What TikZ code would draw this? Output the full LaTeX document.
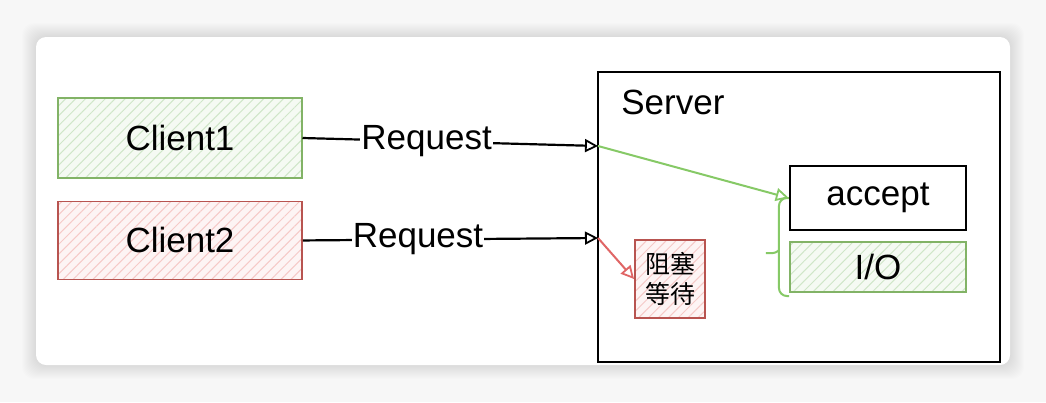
\documentclass[tikz,border=0pt]{standalone}
\usepackage{fontspec}
\setmainfont{Liberation Sans}
\newfontfamily\cjkfont{Noto Sans CJK SC}
\usetikzlibrary{arrows.meta,patterns.meta,positioning,calc}
\definecolor{linegreen}{HTML}{82B366}
\definecolor{hatchgreen}{HTML}{CFE6C8}
\definecolor{paperGreen}{HTML}{F5FAF3}
\definecolor{linered}{HTML}{B85450}
\definecolor{hatchred}{HTML}{F6C9C7}
\definecolor{paperRed}{HTML}{FDF4F4}
\definecolor{arrowgreen}{HTML}{86C966}
\definecolor{arrowred}{HTML}{E06666}
\begin{document}
\begin{tikzpicture}[x=1pt,y=-1pt,
					box/.style={rectangle,draw,line width=1.9pt,inner sep=0pt,font=\fontsize{35}{40}\selectfont},
					greenbox/.style={box,draw=linegreen,preaction={fill=paperGreen},
						pattern={Lines[angle=45,distance=7pt,line width=1pt]},pattern color=hatchgreen},
					redbox/.style={box,draw=linered,preaction={fill=paperRed},
						pattern={Lines[angle=45,distance=7pt,line width=1pt]},pattern color=hatchred},
					tip/.style={-{Triangle[open,length=13pt,width=13pt,line width=1.8pt]}},
					request/.style={line width=2.2pt,tip},
					]
					% page and card
					\useasboundingbox (0,0) rectangle (1046,402);
					\fill[gray!6] (0,0) rectangle (1046,402);
					\foreach \d in {1,...,14}
						\fill[black,opacity=0.006,rounded corners=12pt] (36-\d,37-\d) rectangle (1010+\d,365+\d);
					\fill[white,rounded corners=10pt] (36,37) rectangle (1010,365);
					% clients
					\node [greenbox,minimum width=244pt,minimum height=80pt] (client1) at (180,138) {Client1};
					\node [redbox,minimum width=244pt,minimum height=78pt,below=22pt of client1] (client2) {Client2};
					% server
					\node [box,line width=2.3pt,minimum width=402pt,minimum height=290pt] (server) at (799,217) {};
					\node [anchor=west,font=\fontsize{35}{40}\selectfont] (srvlabel) at ([xshift=21pt,yshift=-32pt]server.north west) {Server};
					\node [box,line width=2.3pt,fill=white,minimum width=176pt,minimum height=64pt] (accept) at (878,198) {accept};
					\node [greenbox,minimum width=176pt,minimum height=50pt,below=10pt of accept] (io) {I/O};
					\node [redbox,minimum width=70pt,minimum height=78pt,align=center,
						font=\cjkfont\fontsize{25}{30}\selectfont] (wait) at (670,279) {阻塞\\等待};
					\coordinate (in1) at (598,146);
					\coordinate (in2) at (598,238);
					\coordinate (bend) at ($(accept.west)!0.5!([yshift=-3pt]io.south west)+(-10,0)$);
					% connectors
					\draw[request] (client1.east) -- node[pos=0.42,fill=white,inner sep=1pt,font=\fontsize{35}{40}\selectfont] (req1) {Request} (in1);
					\draw[request] (client2.east) -- node[pos=0.39,fill=white,inner sep=1pt,font=\fontsize{35}{40}\selectfont] (req2) {Request} (in2);
					\draw[arrowgreen,line width=2pt,tip] (in1) -- (accept.west);
					\draw[arrowred,line width=2pt,tip] (in2) -- (wait.west);
					% bracket round accept and I/O
					\draw[arrowgreen,line width=2pt,rounded corners=8pt] (accept.west) -| (bend) |- ([yshift=-3pt]io.south west);
					\draw[arrowgreen,line width=2pt,rounded corners=3pt] ([yshift=-3pt]bend) -- ++(-3,3) -- ++(-10,0);
				\end{tikzpicture}
\end{document}
